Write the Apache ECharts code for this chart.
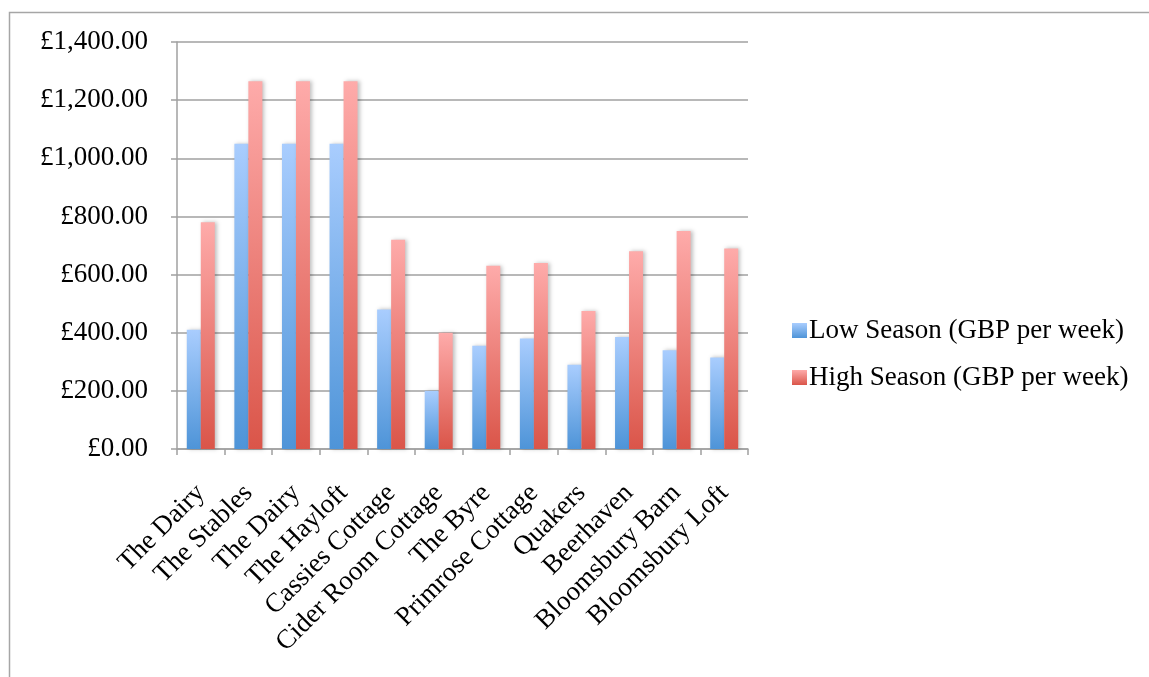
<!DOCTYPE html>
<html>
<head>
<meta charset="utf-8">
<style>
html,body{margin:0;padding:0;background:#fff;}
#c{width:1149px;height:677px;}
</style>
<script src="https://cdn.jsdelivr.net/npm/echarts@6/dist/echarts.min.js"></script>
</head>
<body>
<div id="c"></div>
<script>
var categories = ["The Dairy","The Stables","The Dairy","The Hayloft","Cassies Cottage","Cider Room Cottage","The Byre","Primrose Cottage","Quakers","Beerhaven","Bloomsbury Barn","Bloomsbury Loft"];
var lowSeason = [410,1050,1050,1050,480,200,355,380,290,385,340,315];
var highSeason = [780,1265,1265,1265,720,400,630,640,475,680,750,690];
var yTicks = {min:0, max:1400, interval:200};

var font = "Liberation Serif";
var chart = echarts.init(document.getElementById('c'), null, {renderer:'canvas'});
function grad(top, bottom){
  return new echarts.graphic.LinearGradient(0,0,0,1,[{offset:0,color:top},{offset:1,color:bottom}]);
}
chart.setOption({
  animation:false,
  graphic:[{type:'rect',shape:{x:9.5,y:12.5,width:1150,height:700},style:{fill:'none',stroke:'#a6a6a6',lineWidth:1.5},silent:true}],
  grid:{left:177,right:401,top:42,bottom:228,containLabel:false},
  legend:{
    orient:'vertical',left:787,top:312,itemWidth:15,itemHeight:15,itemGap:20,
    icon:'rect',
    textStyle:{fontFamily:font,fontSize:27,color:'#000',padding:[0,0,0,-3]},
    data:['Low Season (GBP per week)','High Season (GBP per week)']
  },
  xAxis:{
    type:'category',data:categories,
    axisLine:{lineStyle:{color:'#a0a0a0',width:1.5}},
    axisTick:{show:true,length:6,lineStyle:{color:'#a0a0a0',width:1.5}},
    axisLabel:{rotate:45,interval:0,fontFamily:font,fontSize:27,color:'#000',margin:40}
  },
  yAxis:{
    type:'value',min:yTicks.min,max:yTicks.max,interval:yTicks.interval,
    axisLine:{show:true,lineStyle:{color:'#a0a0a0',width:1.5}},
    axisTick:{show:true,length:6,lineStyle:{color:'#a0a0a0',width:1.5}},
    splitLine:{lineStyle:{color:'#a0a0a0',width:1.5}},
    axisLabel:{fontFamily:font,fontSize:27,color:'#000',margin:29,
      formatter:function(v){return '£'+v.toLocaleString('en-GB',{minimumFractionDigits:2,maximumFractionDigits:2});}}
  },
  series:[
    {name:'Low Season (GBP per week)',type:'bar',data:lowSeason,barWidth:14,barGap:'0%',
     itemStyle:{color:grad('#a9cdfe','#4e94d8'),shadowColor:'rgba(0,0,0,0.25)',shadowBlur:4,shadowOffsetX:2}},
    {name:'High Season (GBP per week)',type:'bar',data:highSeason,barWidth:14,barGap:'0%',
     itemStyle:{color:grad('#feabaa','#da5549'),shadowColor:'rgba(0,0,0,0.25)',shadowBlur:4,shadowOffsetX:2}}
  ]
});
</script>
</body>
</html>
